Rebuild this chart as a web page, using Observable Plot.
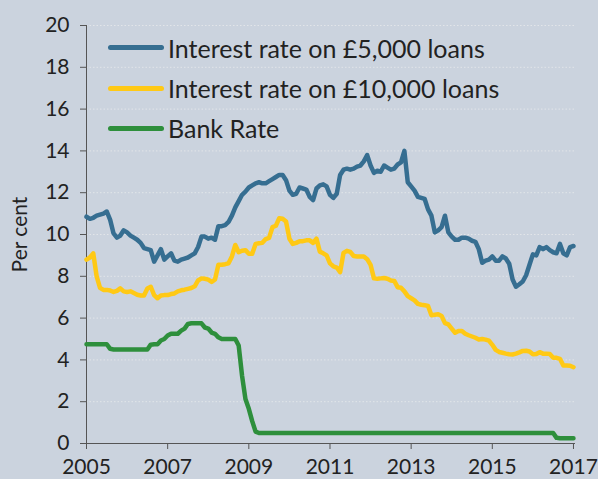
<!DOCTYPE html>
<html><head><meta charset="utf-8">
<script src="https://cdn.jsdelivr.net/npm/d3@7"></script>
<script src="https://cdn.jsdelivr.net/npm/@observablehq/plot@0.6"></script>
<style>
html,body{margin:0;padding:0;background:#cbd3de;}
#chart{position:relative;width:598px;height:479px;font-family:Lato, sans-serif;overflow:hidden;}
#legend{position:absolute;left:108px;top:27.5px;}
.item{display:flex;align-items:center;height:40.4px;font-size:25px;color:#222;white-space:nowrap;}
.swatch{width:56px;height:5px;border-radius:3px;margin-right:4px;flex:none;}
</style>
</head><body><div id="chart"></div>
<script>
const startYear = 2005;
const seriesNames = ["Interest rate on £5,000 loans", "Interest rate on £10,000 loans", "Bank Rate"];
const seriesColors = ["#366e91", "#ffc915", "#2e8f3c"];
const yearTicks = [2005, 2007, 2009, 2011, 2013, 2015, 2017];
const yTicks = [0, 2, 4, 6, 8, 10, 12, 14, 16, 18, 20];

// monthly values, Jan 2005 - Jan 2017
const loans5k = [
10.85,10.75,10.8,10.9,10.95,11.0,11.1,10.7,10.05,9.85,9.95,10.2,
10.1,9.95,9.85,9.75,9.6,9.35,9.3,9.25,8.7,9.0,9.3,8.8,
8.95,9.1,8.75,8.7,8.8,8.85,8.9,9.0,9.1,9.4,9.9,9.9,
9.8,9.85,9.75,10.4,10.4,10.45,10.6,10.9,11.3,11.6,11.9,12.05,
12.25,12.35,12.45,12.5,12.45,12.45,12.55,12.65,12.75,12.85,12.85,12.6,
12.1,11.9,11.95,12.25,12.2,12.15,11.8,11.65,12.2,12.35,12.4,12.3,
11.9,11.75,11.95,12.85,13.1,13.15,13.1,13.15,13.25,13.3,13.5,13.8,
13.3,12.95,13.05,13.0,13.3,13.2,13.1,13.15,13.35,13.45,14.0,12.5,
12.3,12.1,11.8,11.75,11.7,11.2,10.9,10.1,10.2,10.35,10.9,10.1,
9.9,9.75,9.75,9.85,9.85,9.8,9.7,9.65,9.3,8.65,8.75,8.8,
8.95,8.75,8.75,8.95,8.85,8.6,7.85,7.5,7.62,7.75,8.05,8.55,
9.05,9.0,9.4,9.3,9.4,9.25,9.15,9.1,9.55,9.1,9.0,9.4,
9.45];
const loans10k = [
8.8,8.9,9.1,8.0,7.45,7.35,7.35,7.32,7.25,7.3,7.42,7.28,
7.25,7.28,7.2,7.12,7.08,7.08,7.42,7.5,7.1,6.95,7.08,7.1,
7.1,7.15,7.18,7.28,7.33,7.36,7.4,7.44,7.52,7.8,7.9,7.88,
7.84,7.73,7.85,8.55,8.55,8.58,8.62,8.95,9.5,9.15,9.22,9.25,
9.08,9.08,9.55,9.58,9.6,9.78,9.84,10.35,10.42,10.78,10.75,10.62,
9.8,9.55,9.6,9.68,9.68,9.72,9.72,9.6,9.8,9.18,9.1,9.0,
8.62,8.48,8.42,8.2,9.12,9.22,9.17,8.97,8.95,8.95,8.95,8.82,
8.55,7.9,7.88,7.9,7.92,7.88,7.8,7.78,7.48,7.45,7.28,7.05,
6.95,6.85,6.68,6.64,6.62,6.58,6.14,6.16,6.18,6.1,5.76,5.7,
5.5,5.3,5.38,5.38,5.25,5.18,5.12,5.06,4.98,5.0,4.97,4.92,
4.72,4.48,4.38,4.34,4.3,4.27,4.26,4.3,4.36,4.43,4.44,4.4,
4.27,4.28,4.37,4.3,4.3,4.28,4.1,4.1,4.05,3.73,3.73,3.72,
3.65];
const bankRate = [
4.75,4.75,4.75,4.75,4.75,4.75,4.75,4.53,4.5,4.5,4.5,4.5,
4.5,4.5,4.5,4.5,4.5,4.5,4.5,4.73,4.75,4.75,4.93,5.0,
5.17,5.25,5.25,5.25,5.4,5.5,5.72,5.75,5.75,5.75,5.75,5.55,
5.5,5.31,5.25,5.08,5.0,5.0,5.0,5.0,5.0,4.69,3.24,2.13,
1.66,1.07,0.57,0.5,0.5,0.5,0.5,0.5,0.5,0.5,0.5,0.5,
0.5,0.5,0.5,0.5,0.5,0.5,0.5,0.5,0.5,0.5,0.5,0.5,
0.5,0.5,0.5,0.5,0.5,0.5,0.5,0.5,0.5,0.5,0.5,0.5,
0.5,0.5,0.5,0.5,0.5,0.5,0.5,0.5,0.5,0.5,0.5,0.5,
0.5,0.5,0.5,0.5,0.5,0.5,0.5,0.5,0.5,0.5,0.5,0.5,
0.5,0.5,0.5,0.5,0.5,0.5,0.5,0.5,0.5,0.5,0.5,0.5,
0.5,0.5,0.5,0.5,0.5,0.5,0.5,0.5,0.5,0.5,0.5,0.5,
0.5,0.5,0.5,0.5,0.5,0.5,0.5,0.27,0.25,0.25,0.25,0.25,
0.25];

const rows = [];
[loans5k, loans10k, bankRate].forEach((arr, s) =>
  arr.forEach((v, i) => rows.push({series: seriesNames[s], t: startYear + i / 12, v})));

const chart = Plot.plot({
  width: 598, height: 479,
  marginLeft: 86, marginRight: 23, marginTop: 25, marginBottom: 36,
  style: {background: "transparent", fontFamily: "Lato, sans-serif", fontSize: "21px", overflow: "visible"},
  x: {domain: [2005, 2017.05]},
  y: {domain: [0, 20]},
  color: {domain: seriesNames, range: seriesColors},
  marks: [
    Plot.gridY(yTicks, {stroke: "#e2e5e9", strokeOpacity: 1, strokeDasharray: "1.5,2"}),
    Plot.axisY(yTicks, {tickSize: 6, tickPadding: 11, stroke: "#555", fill: "#222",
      label: "Per cent", labelAnchor: "center", labelArrow: "none", labelOffset: 74}),
    Plot.axisX(yearTicks, {tickSize: 6, tickPadding: 10, stroke: "#555", fill: "#222",
      tickFormat: d => String(d), label: null}),
    Plot.ruleY([0], {stroke: "#555"}),
    Plot.ruleX([2005], {stroke: "#555"}),
    Plot.line(rows, {x: "t", y: "v", z: "series", stroke: "series", strokeWidth: 4.5})
  ]
});
const root = document.getElementById("chart");
root.appendChild(chart);
const legend = document.createElement("div");
legend.id = "legend";
seriesNames.forEach((name, i) => {
  const item = document.createElement("div");
  item.className = "item";
  const sw = document.createElement("span");
  sw.className = "swatch";
  sw.style.background = seriesColors[i];
  const tx = document.createElement("span");
  tx.textContent = name;
  item.appendChild(sw); item.appendChild(tx);
  legend.appendChild(item);
});
root.appendChild(legend);
</script>
</body></html>
